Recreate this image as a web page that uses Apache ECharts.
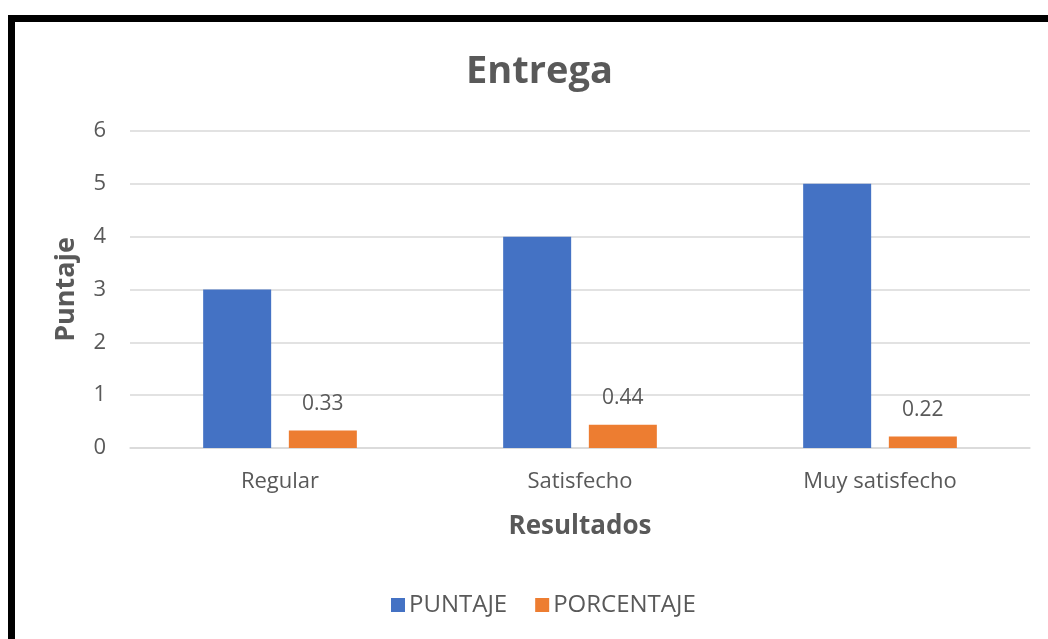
<!DOCTYPE html>
<html>
<head>
<meta charset="utf-8">
<script src="https://cdn.jsdelivr.net/npm/echarts@6/dist/echarts.min.js"></script>
<style>
  html, body { margin: 0; padding: 0; background: #fff; }
  #panel { width: 1048px; height: 639px; }
</style>
</head>
<body>
<div id="panel"></div>
<script>
var categories = ['Regular', 'Satisfecho', 'Muy satisfecho'];
var puntaje = [3, 4, 5];
var porcentaje = [0.33, 0.44, 0.22];
var yTicks = [0, 1, 2, 3, 4, 5, 6];

var FONT = '"Open Sans", Lato, sans-serif';
var GREY = '#595959';

var myChart = echarts.init(document.getElementById('panel'));
myChart.setOption({
    backgroundColor: '#fff',
    animation: false,
    title: {
        text: 'Entrega',
        left: 461,
        top: 48,
        textStyle: { fontFamily: FONT, fontSize: 38, fontWeight: 'bold', color: GREY }
    },
    // marco negro de la imagen original
    graphic: [
        { type: 'rect', shape: { x: 8, y: 15, width: 1040, height: 7 }, style: { fill: '#000' } },
        { type: 'rect', shape: { x: 8, y: 15, width: 7, height: 624 }, style: { fill: '#000' } }
    ],
    legend: {
        bottom: 17,
        left: 386,
        itemWidth: 14,
        itemHeight: 14,
        itemGap: 28,
        icon: 'rect',
        textStyle: { fontFamily: FONT, fontSize: 24, color: GREY, padding: [0, 0, 0, -1] },
        data: ['PUNTAJE', 'PORCENTAJE']
    },
    grid: { left: 130, right: 18, top: 131, bottom: 191, containLabel: false },
    xAxis: {
        type: 'category',
        data: categories,
        name: 'Resultados',
        nameLocation: 'middle',
        nameGap: 66,
        nameTextStyle: { fontFamily: FONT, fontSize: 26, fontWeight: 'bold', color: GREY },
        axisLine: { lineStyle: { color: '#d9d9d9', width: 1.5 } },
        axisTick: { show: false },
        axisLabel: { fontFamily: FONT, fontSize: 22, color: GREY, margin: 23 }
    },
    yAxis: {
        type: 'value',
        min: yTicks[0],
        max: yTicks[yTicks.length - 1],
        interval: 1,
        name: 'Puntaje',
        nameLocation: 'middle',
        nameGap: 50,
        nameTextStyle: { fontFamily: FONT, fontSize: 27, fontWeight: 'bold', color: GREY },
        axisLine: { show: false },
        axisTick: { show: false },
        axisLabel: { fontFamily: FONT, fontSize: 22, color: GREY, margin: 24 },
        splitLine: { lineStyle: { color: '#d9d9d9', width: 1.5 } }
    },
    series: [
        {
            name: 'PUNTAJE',
            type: 'bar',
            data: puntaje,
            barWidth: 68,
            barGap: '26%',
            itemStyle: { color: '#4472c4' }
        },
        {
            name: 'PORCENTAJE',
            type: 'bar',
            data: porcentaje,
            barWidth: 68,
            itemStyle: { color: '#ed7d31' },
            label: {
                show: true,
                position: 'top',
                distance: 16,
                fontFamily: FONT,
                fontSize: 21,
                color: GREY
            }
        }
    ]
});
</script>
</body>
</html>
